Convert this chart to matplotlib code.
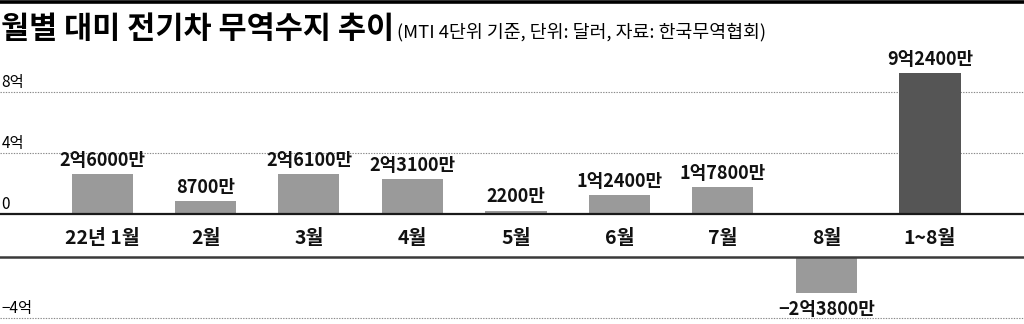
import matplotlib
matplotlib.use("Agg")
import matplotlib.pyplot as plt
import matplotlib.transforms as mtransforms

plt.rcParams['font.family'] = ['Noto Sans CJK KR', 'DejaVu Sans']

# ---- data (unit: 억 달러) ----
categories = ['22년 1월', '2월', '3월', '4월', '5월', '6월', '7월', '8월', '1~8월']
values = [2.60, 0.87, 2.61, 2.31, 0.22, 1.24, 1.78, -2.38, 9.24]
value_labels = ['2억6000만', '8700만', '2억6100만', '2억3100만', '2200만',
                '1억2400만', '1억7800만', '−2억3800만', '9억2400만']
upper_ticks = [8, 4, 0]
upper_tick_labels = ['8억', '4억', '0']
lower_ticks = [-4]
lower_tick_labels = ['−4억']
title = '월별 대미 전기차 무역수지 추이'
subtitle = '(MTI 4단위 기준, 단위: 달러, 자료: 한국무역협회)'

W, H = 1024, 324
fig = plt.figure(figsize=(W / 100, H / 100), dpi=100)

px_per_unit = 15.25
zero_up_px = 214
zero_lo_px = 257
ymax_up = 10.5
up_h = ymax_up * px_per_unit
ax_up = fig.add_axes([0, (H - zero_up_px) / H, 1, up_h / H])
lo_h = H - zero_lo_px
ax_lo = fig.add_axes([0, 0, 1, lo_h / H])

x0_px, x8_px = 102, 930
ux = (x8_px - x0_px) / 8
xlim = (-x0_px / ux, (W - x0_px) / ux)
for ax in (ax_up, ax_lo):
    ax.set_xlim(*xlim)
    ax.set_axis_off()
    ax.patch.set_alpha(0)
ax_up.set_ylim(0, ymax_up)
ax_lo.set_ylim(-lo_h / px_per_unit, 0)

xs = list(range(len(categories)))
bar_w = 61 / ux
colors = ['#9a9a9a'] * (len(categories) - 1) + ['#555555']

# gridlines
grid_kw = dict(color='#888888', lw=0.8, ls=(0, (1.2, 1.2)), clip_on=False, zorder=1)
for t in upper_ticks:
    if t != 0:
        ax_up.axhline(t, **grid_kw)
for t in lower_ticks:
    ax_lo.axhline(t, **grid_kw)

# bars
for x, v, c in zip(xs, values, colors):
    if v >= 0:
        ax_up.bar(x, v, width=bar_w, color=c, zorder=2)
    else:
        ax_lo.bar(x, v, width=bar_w, color=c, zorder=2)

ax_up.axhline(0, color='#1a1a1a', lw=1.6, clip_on=False, zorder=3)
ax_lo.axhline(0, color='#3a3a3a', lw=1.8, clip_on=False, zorder=3)

# value labels
lab_kw = dict(fontsize=13, fontweight='bold', color='#111111', annotation_clip=False)
for x, v, lab in zip(xs, values, value_labels):
    if v >= 0:
        ax_up.annotate(lab, (x, v), xytext=(0, 3), textcoords='offset points',
                       ha='center', va='bottom', **lab_kw)
    else:
        ax_lo.annotate(lab, (x, v), xytext=(0, -5), textcoords='offset points',
                       ha='center', va='top', **lab_kw)

# category labels in band
for x, cat in zip(xs, categories):
    ax_up.text(x, -24 / up_h, cat, transform=ax_up.get_xaxis_transform(),
               ha='center', va='center', fontsize=14, fontweight='bold', color='#111111')

# y tick labels
tr_up = mtransforms.blended_transform_factory(ax_up.transAxes, ax_up.transData)
for t, lab in zip(upper_ticks, upper_tick_labels):
    ax_up.annotate(lab, (0, t), xycoords=tr_up, xytext=(1, 0.5), textcoords='offset points',
                   ha='left', va='bottom', fontsize=11, color='black', annotation_clip=False)
tr_lo = mtransforms.blended_transform_factory(ax_lo.transAxes, ax_lo.transData)
for t, lab in zip(lower_ticks, lower_tick_labels):
    ax_lo.annotate(lab, (0, t), xycoords=tr_lo, xytext=(1, 0.5), textcoords='offset points',
                   ha='left', va='bottom', fontsize=11, color='black', annotation_clip=False)

# top rule and titles
fig.add_artist(plt.Line2D([0, 1], [1 - 1.5 / H, 1 - 1.5 / H], transform=fig.transFigure,
                          color='black', lw=2.6))
fig.text(0.001, 1 - 29 / H, title, ha='left', va='center', fontsize=22,
         fontweight='black', color='black')
fig.text(397 / W, 1 - 32 / H, subtitle, ha='left', va='center', fontsize=13.2,
         color='black')

fig.savefig('out.png', dpi=100)
